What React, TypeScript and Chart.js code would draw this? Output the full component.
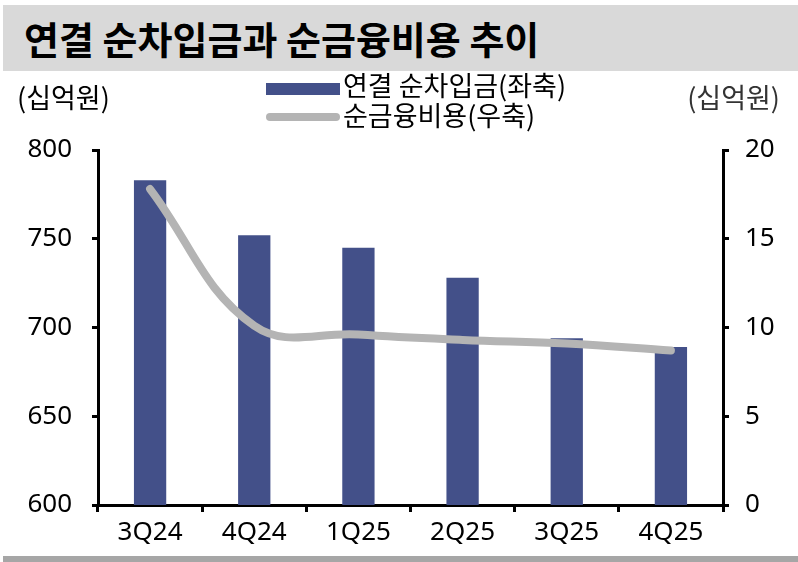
import React, { useEffect, useRef } from "react";
import { Chart, registerables } from "chart.js";

Chart.register(...registerables);

const categories = ["3Q24", "4Q24", "1Q25", "2Q25", "3Q25", "4Q25"];
const netDebt = [783, 752, 745, 728, 694, 689];
const netFinCost = [17.8, 10.1, 9.6, 9.3, 9.1, 8.7];
const leftTicks = [600, 650, 700, 750, 800];
const rightTicks = [0, 5, 10, 15, 20];

const title = "연결 순차입금과 순금융비용 추이";
const seriesNames = ["연결 순차입금(좌축)", "순금융비용(우축)"];
const unitLabel = "(십억원)";

const BAR_COLOR = "#435089";
const LINE_COLOR = "#b4b4b4";
const KR_FONT = '"Noto Sans CJK KR", "Noto Sans", sans-serif';
const NUM_FONT = '"Noto Sans", "Noto Sans CJK KR", sans-serif';

export default function App() {
  const canvasRef = useRef<HTMLCanvasElement | null>(null);

  useEffect(() => {
    const canvas = canvasRef.current;
    if (!canvas) return;
    const chart = new Chart(canvas, {
      type: "bar",
      data: {
        labels: categories,
        datasets: [
          {
            type: "line",
            label: seriesNames[1],
            data: netFinCost,
            yAxisID: "y1",
            borderColor: LINE_COLOR,
            backgroundColor: LINE_COLOR,
            borderWidth: 8,
            borderCapStyle: "round",
            borderJoinStyle: "round",
            pointRadius: 0,
            tension: 0.4,
            order: 0,
          },
          {
            type: "bar",
            label: seriesNames[0],
            data: netDebt,
            yAxisID: "y",
            backgroundColor: BAR_COLOR,
            barPercentage: 0.31,
            categoryPercentage: 1,
            order: 1,
          },
        ],
      },
      options: {
        responsive: false,
        animation: false,
        layout: { padding: { top: 150, left: 0, right: 0, bottom: 0 } },
        plugins: { legend: { display: false }, tooltip: { enabled: false } },
        scales: {
          x: {
            offset: true,
            border: { display: true, color: "#000", width: 3 },
            grid: {
              offset: true,
              drawOnChartArea: false,
              drawTicks: true,
              tickLength: 7,
              color: "#000",
              lineWidth: 3,
            },
            ticks: {
              color: "#000",
              padding: 5,
              font: { family: NUM_FONT, size: 26 },
              maxRotation: 0,
            },
            afterFit: (s: any) => {
              s.height = 57;
            },
          },
          y: {
            position: "left",
            min: 600,
            max: 800,
            afterBuildTicks: (s: any) => {
              s.ticks = leftTicks.map((v) => ({ value: v }));
            },
            border: { display: true, color: "#000", width: 3 },
            grid: {
              drawOnChartArea: false,
              drawTicks: true,
              tickLength: 6,
              color: "#000",
              lineWidth: 3,
            },
            ticks: {
              color: "#000",
              padding: 20,
              font: { family: NUM_FONT, size: 26 },
            },
            afterFit: (s: any) => {
              s.width = 98;
            },
          },
          y1: {
            position: "right",
            min: 0,
            max: 20,
            afterBuildTicks: (s: any) => {
              s.ticks = rightTicks.map((v) => ({ value: v }));
            },
            border: { display: true, color: "#000", width: 3 },
            grid: {
              drawOnChartArea: false,
              drawTicks: true,
              tickLength: 6,
              color: "#000",
              lineWidth: 3,
            },
            ticks: {
              color: "#000",
              padding: 16,
              font: { family: NUM_FONT, size: 26 },
            },
            afterFit: (s: any) => {
              s.width = 75;
            },
          },
        },
      },
    });
    return () => chart.destroy();
  }, []);

  return (
    <div
      style={{
        position: "absolute",
        left: 0,
        top: 0,
        width: 798,
        height: 562,
        background: "#fff",
        overflow: "hidden",
        fontFamily: KR_FONT,
      }}
    >
      <div
        style={{
          position: "absolute",
          left: 3,
          top: 5,
          width: 795,
          height: 66,
          background: "#d9d9d9",
        }}
      />
      <div
        style={{
          position: "absolute",
          left: 24,
          top: 5,
          height: 66,
          lineHeight: "66px",
          fontSize: 38,
          fontWeight: 700,
          color: "#000",
          whiteSpace: "nowrap",
        }}
      >
        {title}
      </div>
      <canvas
        ref={canvasRef}
        width={798}
        height={562}
        style={{ position: "absolute", left: 0, top: 0, width: 798, height: 562 }}
      />
      <div
        style={{
          position: "absolute",
          left: 17,
          top: 79,
          fontSize: 27,
          lineHeight: "36px",
          color: "#000",
          whiteSpace: "nowrap",
        }}
      >
        {unitLabel}
      </div>
      <div
        style={{
          position: "absolute",
          right: 18,
          top: 79,
          fontSize: 27,
          lineHeight: "36px",
          color: "#333",
          whiteSpace: "nowrap",
        }}
      >
        {unitLabel}
      </div>
      <div
        style={{
          position: "absolute",
          left: 266,
          top: 83,
          width: 74,
          height: 12,
          background: BAR_COLOR,
        }}
      />
      <div
        style={{
          position: "absolute",
          left: 266,
          top: 113,
          width: 74,
          height: 8,
          borderRadius: 4,
          background: LINE_COLOR,
        }}
      />
      <div
        style={{
          position: "absolute",
          left: 343,
          top: 69,
          fontSize: 27,
          lineHeight: "32px",
          color: "#000",
          whiteSpace: "nowrap",
        }}
      >
        {seriesNames[0]}
      </div>
      <div
        style={{
          position: "absolute",
          left: 343,
          top: 99,
          fontSize: 27,
          lineHeight: "32px",
          color: "#000",
          whiteSpace: "nowrap",
        }}
      >
        {seriesNames[1]}
      </div>
      <div
        style={{
          position: "absolute",
          left: 3,
          top: 556,
          width: 795,
          height: 6,
          background: "#a6a6a6",
        }}
      />
    </div>
  );
}
